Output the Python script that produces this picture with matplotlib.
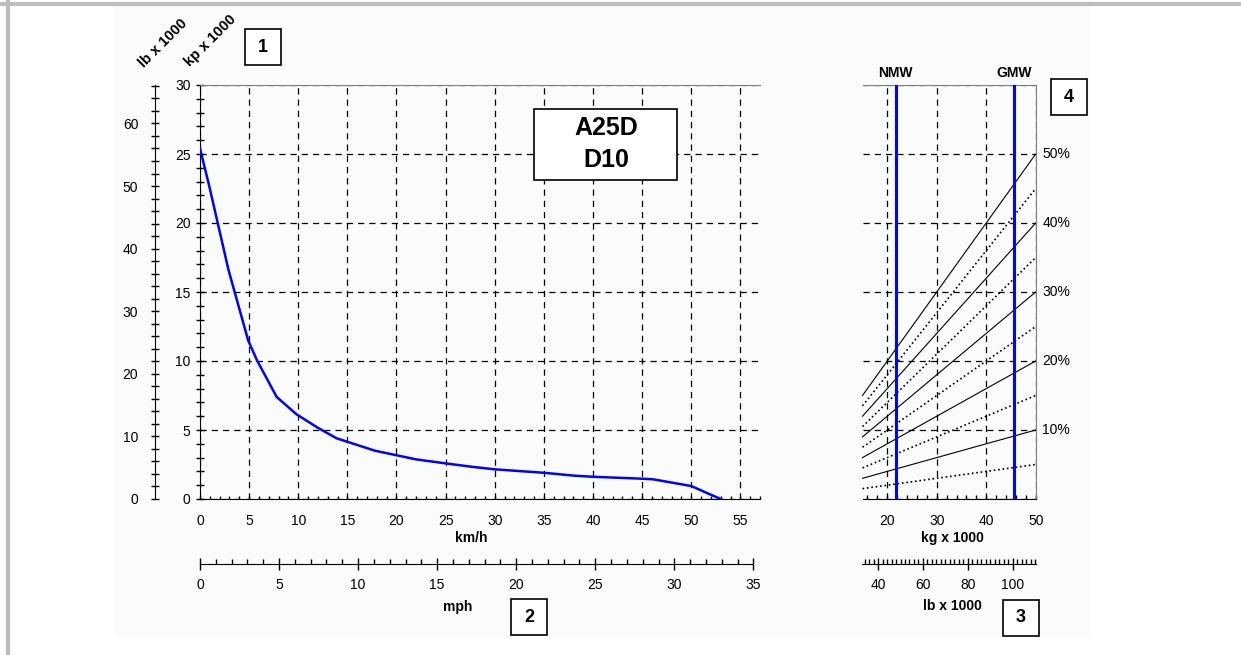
import numpy as np
import matplotlib
matplotlib.use("Agg")
import matplotlib.pyplot as plt
from matplotlib.patches import Rectangle
from matplotlib.ticker import MultipleLocator, FixedLocator

plt.rcParams['font.family'] = ['Liberation Sans', 'DejaVu Sans']
plt.rcParams['font.size'] = 10

# --- data ---
speed_kmh = [0, 0.9, 2.9, 4.9, 5.8, 7.8, 9.8, 11.9, 13.9, 17.8, 22.0, 25.0,
             27.6, 30.0, 35.0, 38.1, 40.0, 45.0, 46.1, 50.0, 52.0, 53.0]
tractive_kp = [25.4, 22.8, 16.6, 11.5, 10.05, 7.4, 6.15, 5.2, 4.4, 3.5, 2.87, 2.58,
               2.34, 2.15, 1.9, 1.69, 1.61, 1.47, 1.43, 0.94, 0.31, 0.0]

grade_pct = [5, 10, 15, 20, 25, 30, 35, 40, 45, 50]
grade_weight = [15, 50]                     # kg x 1000
grade_start = [0.75, 1.5, 2.25, 3.0, 3.75, 4.5, 5.25, 6.0, 6.75, 7.5]
grade_end = [2.5, 5.0, 7.5, 10.0, 12.5, 15.0, 17.5, 20.0, 22.5, 25.0]

nmw_t = 21.7
gmw_t = 45.65
model_text = "A25D\nD10"

KP_TO_LB = 2.20462
KMH_TO_MPH = 1 / 1.609344

W, H = 1241, 655
fig = plt.figure(figsize=(W / 100, H / 100), dpi=100)


def px(x0, y0, x1, y1):
    # pixel box -> figure fraction rect
    return [x0 / W, 1 - y1 / H, (x1 - x0) / W, (y1 - y0) / H]


def fig_label(x, y, s, **kw):
    fig.text(x / W, 1 - y / H, s, ha='center', va='center', **kw)


def fig_box(x0, y0, x1, y1):
    fig.patches.append(Rectangle((x0 / W, 1 - y1 / H), (x1 - x0) / W, (y1 - y0) / H,
                                 transform=fig.transFigure, facecolor='white',
                                 edgecolor='black', lw=1.2, zorder=5))


# light panel and grey frame
fig.patches.append(Rectangle((113 / W, 1 - 637 / H), (1090 - 113) / W, (637 - 5) / H,
                             transform=fig.transFigure, facecolor='#fafcfc',
                             edgecolor='none', zorder=-5))
fig.lines.append(plt.Line2D([0, 1], [1 - 3.5 / H] * 2, transform=fig.transFigure,
                            color='#bdbdbd', lw=3, zorder=-4))
fig.lines.append(plt.Line2D([7.5 / W] * 2, [0, 1 - 2 / H], transform=fig.transFigure,
                            color='#bdbdbd', lw=3, zorder=-4))

grid_kw = dict(color='black', lw=0.9, linestyle=(0, (5, 4)))

# --- main chart ---
ax = fig.add_axes(px(200, 85, 760, 499))
ax.patch.set_alpha(0)
ax.plot(speed_kmh, tractive_kp, color='#0000ff', lw=1.8, zorder=3)
ax.set_xlim(0, 57)
ax.set_ylim(0, 30)
ax.xaxis.set_major_locator(MultipleLocator(5))
ax.xaxis.set_minor_locator(MultipleLocator(1))
ax.yaxis.set_major_locator(MultipleLocator(5))
ax.yaxis.set_minor_locator(MultipleLocator(1))
ax.grid(True, which='major', **grid_kw)
ax.spines['right'].set_visible(False)
ax.spines['top'].set_color('#808080')
ax.tick_params(axis='x', which='both', direction='in', length=2.5, width=1, pad=11)
ax.tick_params(axis='y', which='both', direction='inout', length=5.5, width=1, pad=4)
fig_label(471, 538, 'km/h', fontweight='bold')

# model box
fig_box(534, 109, 677, 180)
fig_label(606, 144, model_text, fontsize=18, fontweight='bold', linespacing=1.4, zorder=6)

# lb x 1000 axis (left)
ax_lb = fig.add_axes(px(155, 85, 156, 499))
ax_lb.patch.set_alpha(0)
ax_lb.set_ylim(0, 30 * KP_TO_LB)
for s in ['right', 'top', 'bottom']:
    ax_lb.spines[s].set_visible(False)
ax_lb.set_xticks([])
ax_lb.yaxis.set_major_locator(MultipleLocator(10))
ax_lb.yaxis.set_minor_locator(MultipleLocator(2))
ax_lb.tick_params(axis='y', which='both', direction='inout', length=6, width=1, pad=9)

fig_label(163, 43, 'lb x 1000', rotation=45, fontweight='bold', fontsize=10.5)
fig_label(210, 41, 'kp x 1000', rotation=45, fontweight='bold', fontsize=10.5)

# mph axis
ax_mph = fig.add_axes(px(200, 563, 760, 564))
ax_mph.patch.set_alpha(0)
ax_mph.set_xlim(0, 57 * KMH_TO_MPH)
for s in ['left', 'right', 'top']:
    ax_mph.spines[s].set_visible(False)
ax_mph.spines['bottom'].set_bounds(0, 35)
ax_mph.set_yticks([])
ax_mph.xaxis.set_major_locator(FixedLocator(range(0, 36, 5)))
ax_mph.xaxis.set_minor_locator(FixedLocator(range(0, 36, 1)))
ax_mph.tick_params(axis='x', which='major', direction='inout', length=8.5, width=1, pad=6)
ax_mph.tick_params(axis='x', which='minor', direction='in', length=3.5, width=1)
fig_label(458, 607, 'mph', fontweight='bold')

# --- grade chart ---
ax2 = fig.add_axes(px(862.5, 85, 1035.7, 499))
ax2.patch.set_alpha(0)
ax2.set_xlim(15, 50)
ax2.set_ylim(0, 30)
for i, g in enumerate(grade_pct):
    ls = '-' if g % 10 == 0 else ':'
    lw = 0.8 if ls == '-' else 1.2
    ax2.plot(grade_weight, [grade_start[i], grade_end[i]], color='black', lw=lw,
             linestyle=ls, zorder=2, clip_on=False)
    if g % 10 == 0:
        ax2.text(51.3, grade_end[i], f'{g}%', ha='left', va='center', fontsize=10)
ax2.axvline(nmw_t, color='#0000ff', lw=2.2, zorder=3)
ax2.axvline(gmw_t, color='#0000ff', lw=2.2, zorder=3)
ax2.text(nmw_t, 30.9, 'NMW', ha='center', va='center', fontweight='bold')
ax2.text(gmw_t, 30.9, 'GMW', ha='center', va='center', fontweight='bold')
ax2.xaxis.set_major_locator(FixedLocator([20, 30, 40, 50]))
ax2.xaxis.set_minor_locator(MultipleLocator(2))
ax2.yaxis.set_major_locator(MultipleLocator(5))
ax2.grid(True, which='major', **grid_kw)
ax2.spines['left'].set_visible(False)
ax2.spines['top'].set_color('#808080')
ax2.spines['right'].set_color('#808080')
ax2.tick_params(axis='y', which='both', left=False, labelleft=False)
ax2.tick_params(axis='x', which='both', direction='in', length=3, width=1, pad=11)
fig_label(952, 538, 'kg x 1000', fontweight='bold')

# lb axis under grade chart
ax2_lb = fig.add_axes(px(862.5, 563, 1035.7, 564))
ax2_lb.patch.set_alpha(0)
ax2_lb.set_xlim(15 * KP_TO_LB, 50 * KP_TO_LB)
for s in ['left', 'right', 'top']:
    ax2_lb.spines[s].set_visible(False)
ax2_lb.set_yticks([])
ax2_lb.xaxis.set_major_locator(FixedLocator([40, 60, 80, 100]))
ax2_lb.xaxis.set_minor_locator(FixedLocator(range(34, 111, 2)))
ax2_lb.tick_params(axis='x', which='major', direction='inout', length=8.5, width=1, pad=6)
ax2_lb.tick_params(axis='x', which='minor', direction='in', length=3.5, width=1)
fig_label(952, 606, 'lb x 1000', fontweight='bold')

# numbered boxes (fixed pixel size)
for num, (bx, by) in zip(['1', '2', '3', '4'],
                         [(262.5, 47), (529, 617), (1021, 618), (1069, 97)]):
    fig_box(bx - 18, by - 18, bx + 18, by + 18)
    fig_label(bx, by, num, fontsize=13, fontweight='bold', zorder=6)

fig.savefig('out.png', dpi=100)
